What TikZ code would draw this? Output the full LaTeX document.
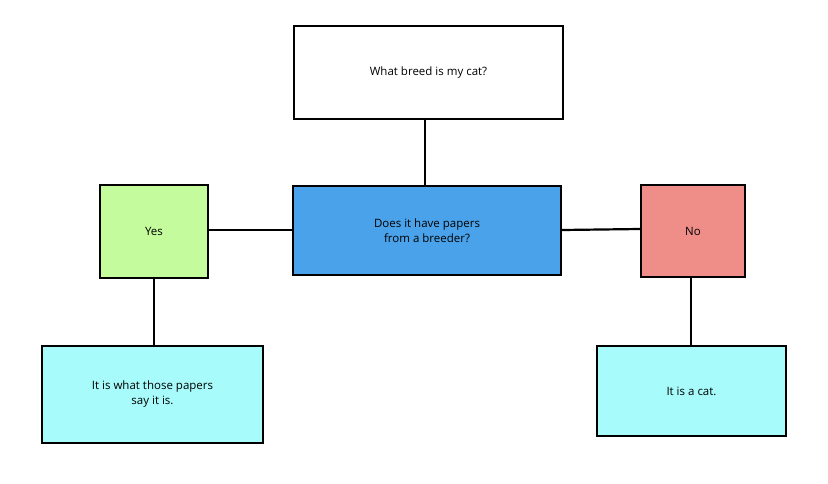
\documentclass[tikz,border=0pt]{standalone}
\usepackage{fontspec}
\setmainfont{Open Sans}
\begin{document}
\begin{tikzpicture}[x=1pt,y=-1pt,
  box/.style={draw=black,line width=2.2pt,align=center,font=\fontsize{11.5}{15}\selectfont,inner sep=0pt},
  conn/.style={line width=2.2pt}]
\useasboundingbox (0,0) rectangle (828,483);
\definecolor{cblue}{HTML}{4AA3EA}
\definecolor{cgreen}{HTML}{C4FB9C}
\definecolor{cred}{HTML}{EF8E88}
\definecolor{ccyan}{HTML}{A8FBFB}
\node[box,fill=white,minimum width=269pt,minimum height=93pt] (q) at (428.5,72.5) {What breed is my cat?};
\node[box,fill=cblue,minimum width=268pt,minimum height=89pt] (p) at (427,230.5) {Does it have papers\\from a breeder?};
\node[box,fill=cgreen,minimum width=108pt,minimum height=93pt] (y) at (154,231.5) {Yes};
\node[box,fill=cred,minimum width=104pt,minimum height=92pt] (n) at (693,231) {No};
\node[box,fill=ccyan,minimum width=221pt,minimum height=97pt] (l) at (152.5,394.5) {It is what those papers\\say it is.};
\node[box,fill=ccyan,minimum width=189pt,minimum height=90pt] (r) at (691.5,391) {It is a cat.};
\draw[conn] (q.south -| 425,0) -- (p.north -| 425,0);
\draw[conn] (y.east |- 0,230) -- (p.west |- 0,230);
\draw[conn] (p.east |- 0,230) -- (n.west |- 0,229);
\draw[conn] (y.south) -- (l.north -| y.south);
\draw[conn] (n.south -| 691,0) -- (r.north -| 691,0);
\end{tikzpicture}
\end{document}
